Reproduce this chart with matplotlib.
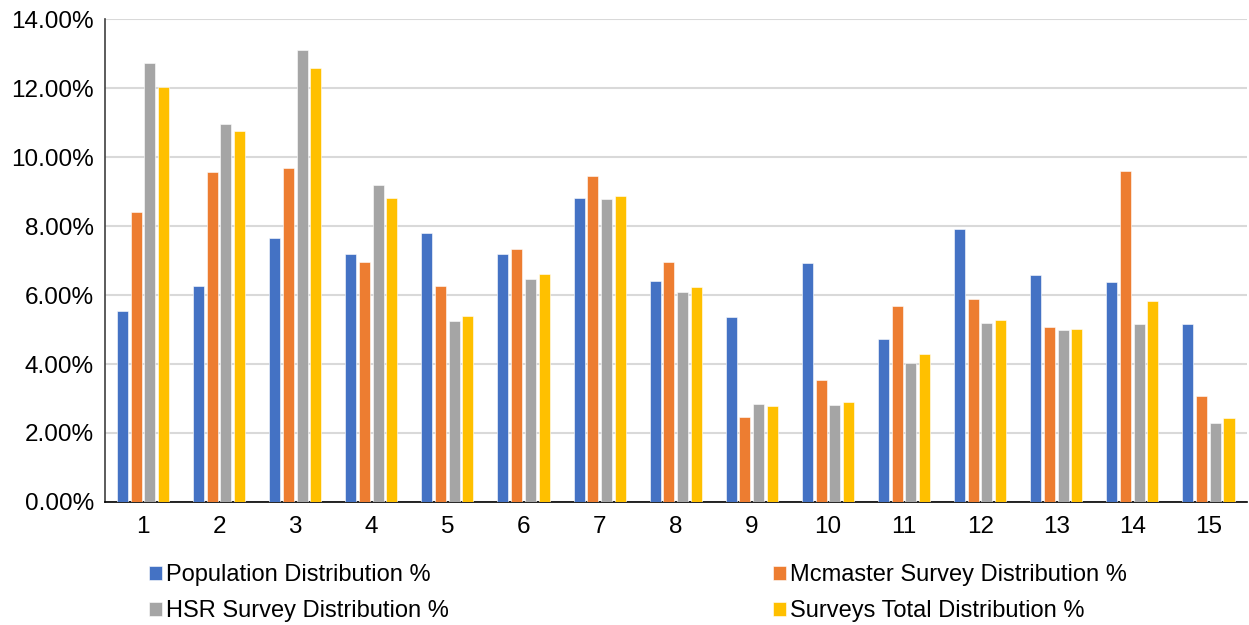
import matplotlib.pyplot as plt
import numpy as np
from matplotlib.ticker import FuncFormatter

plt.rcParams['font.family'] = ['Liberation Sans', 'DejaVu Sans']

zones = [str(i) for i in range(1, 16)]

population = [5.54, 6.26, 7.67, 7.19, 7.80, 7.20, 8.83, 6.42, 5.35, 6.92, 4.73, 7.92, 6.59, 6.37, 5.15]
mcmaster = [8.40, 9.58, 9.69, 6.96, 6.26, 7.33, 9.45, 6.96, 2.47, 3.53, 5.67, 5.90, 5.06, 9.59, 3.06]
hsr = [12.74, 10.95, 13.11, 9.19, 5.25, 6.48, 8.78, 6.10, 2.84, 2.80, 4.02, 5.18, 4.99, 5.16, 2.30]
total = [12.05, 10.75, 12.58, 8.83, 5.40, 6.61, 8.87, 6.24, 2.78, 2.91, 4.29, 5.29, 5.01, 5.84, 2.42]

series = [
    ('Population Distribution %', population, '#4472C4'),
    ('Mcmaster Survey Distribution %', mcmaster, '#ED7D31'),
    ('HSR Survey Distribution %', hsr, '#A5A5A5'),
    ('Surveys Total Distribution %', total, '#FFC000'),
]

fig = plt.figure(figsize=(12.49, 6.25), dpi=100)
ax = fig.add_axes([0.084, 0.197, 0.914, 0.772])

x = np.arange(len(zones))
step = 0.18
width = 0.145
bars = []
for i, (label, vals, color) in enumerate(series):
    b = ax.bar(x + (i - 1.5) * step, vals, width, color=color, label=label, zorder=3,
               edgecolor='white', linewidth=0.4)
    bars.append(b)

ax.set_xlim(-0.5, len(zones) - 0.5)
ax.set_ylim(0, 14)
ax.set_yticks(np.arange(0, 15, 2))
ax.yaxis.set_major_formatter(FuncFormatter(lambda v, p: f'{v:.2f}%'))
ax.set_xticks(x, zones)
ax.tick_params(axis='both', length=0, labelsize=17.5)
ax.tick_params(axis='x', pad=10)
ax.tick_params(axis='y', pad=8)
ax.grid(axis='y', color='#D9D9D9', linewidth=1.5, zorder=0)

for side in ['top', 'right']:
    ax.spines[side].set_visible(False)
ax.spines['left'].set_color('#404040')
ax.spines['left'].set_linewidth(1.2)
ax.spines['bottom'].set_color('black')
ax.spines['bottom'].set_linewidth(1.2)

# legend fills row by row: population, mcmaster / hsr, total
order = [0, 2, 1, 3]
fig.legend([bars[k] for k in order], [series[k][0] for k in order],
           loc='lower left', bbox_to_anchor=(0.102, -0.03), ncol=2, frameon=False,
           fontsize=17, handlelength=0.55, handleheight=0.55, handletextpad=0.2,
           columnspacing=13.7, labelspacing=0.6)

plt.savefig('out.png', dpi=100)
